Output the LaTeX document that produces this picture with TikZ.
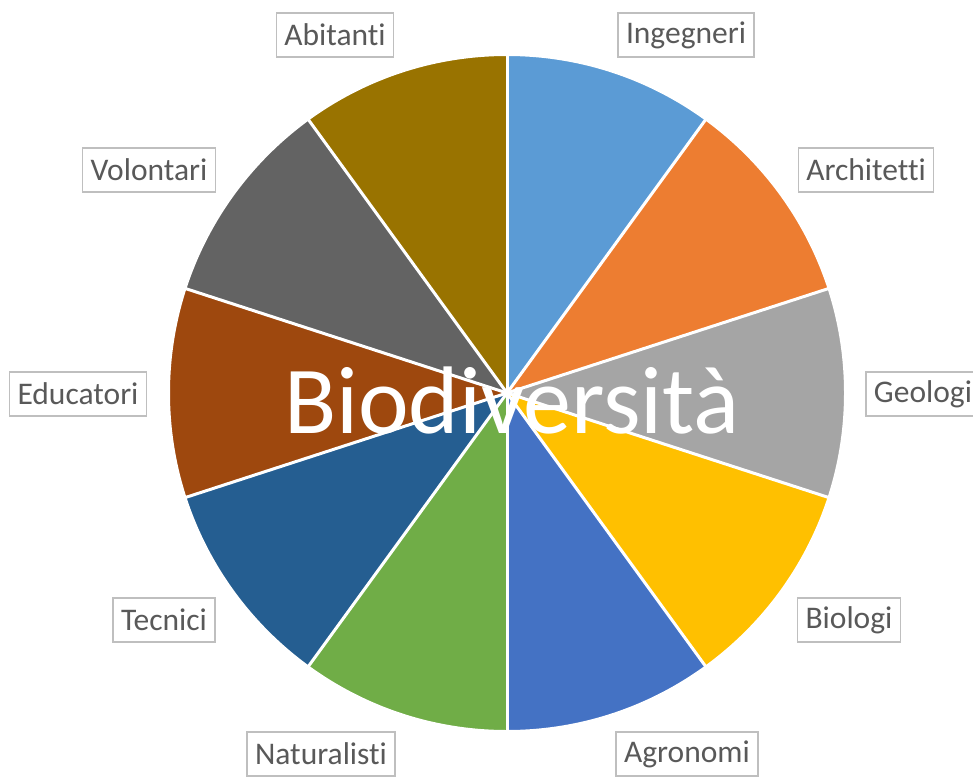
\documentclass[tikz,border=0pt]{standalone}
\usepackage{fontspec}
\setmainfont{Carlito}[Ligatures=NoCommon]

\definecolor{cIng}{HTML}{5B9BD5}
\definecolor{cArc}{HTML}{ED7D31}
\definecolor{cGeo}{HTML}{A5A5A5}
\definecolor{cBio}{HTML}{FFC000}
\definecolor{cAgr}{HTML}{4472C4}
\definecolor{cNat}{HTML}{70AD47}
\definecolor{cTec}{HTML}{255E91}
\definecolor{cEdu}{HTML}{9E480E}
\definecolor{cVol}{HTML}{636363}
\definecolor{cAbi}{HTML}{997300}
\definecolor{lblText}{HTML}{595959}
\definecolor{lblLine}{HTML}{BFBFBF}

\tikzset{
  lbl/.style={draw=lblLine, line width=1.5pt, fill=white, text=lblText,
    font=\fontsize{31.5}{37}\selectfont, inner xsep=8pt, inner ysep=0pt,
    minimum height=44pt},
}

\begin{document}
\begin{tikzpicture}[x=1pt,y=1pt]
\clip (0,0) rectangle (973,-776);
\coordinate (o) at (507,-393);
% slices, clockwise from the top
\foreach \a/\c in {90/cIng,54/cArc,18/cGeo,-18/cBio,-54/cAgr,-90/cNat,-126/cTec,-162/cEdu,162/cVol,126/cAbi}
	\fill[\c] (o) -- ++(\a:338) arc[start angle=\a, end angle=\a-36, radius=338] -- cycle;
\foreach \a in {90,54,18,-18,-54,-90,-126,-162,162,126}
	\draw[white, line width=3pt] (o) -- ++(\a:338);
\draw[white, line width=2pt] (o) circle[radius=338];
% labels
\node[lbl] (ing) at (686,-35) {Ingegneri};
\node[lbl] (arc) at (866,-170) {Architetti};
\node[lbl] (geo) at (923,-394) {Geologi};
\node[lbl] (bio) at (849,-620) {Biologi};
\node[lbl] (agr) at (687,-754) {Agronomi};
\node[lbl] (nat) at (321,-754) {Naturalisti};
\node[lbl] (tec) at (164,-620) {Tecnici};
\node[lbl] (edu) at (78,-394) {Educatori};
\node[lbl] (vol) at (149,-170) {Volontari};
\node[lbl] (abi) at (335,-35) {Abitanti};
% title
\node[text=white, font=\fontsize{96}{100}\selectfont, anchor=base, inner sep=0pt] (title) at (512,-433) {Biodiversità};
\end{tikzpicture}
\end{document}
